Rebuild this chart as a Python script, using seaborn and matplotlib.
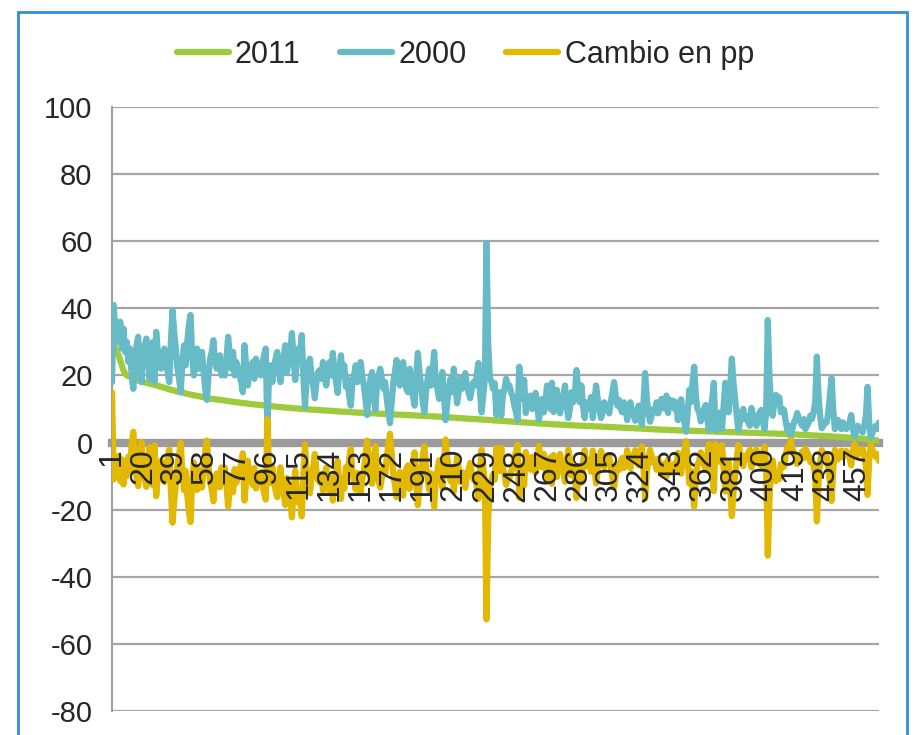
import numpy as np
import pandas as pd
import matplotlib
matplotlib.use('Agg')
import matplotlib.pyplot as plt
from matplotlib.patches import Rectangle
import seaborn as sns

# values (one per ranked unit)
v2011 = [
    33, 30, 28, 27, 26, 24.5, 23, 21.5, 20.5, 20,
    19.8, 19.6, 19.4, 19.2, 19.0, 18.6, 18.5, 18.3, 18.2, 18.1,
    18.0, 17.8, 17.7, 17.6, 17.4, 17.3, 17.2, 17.0, 16.9, 16.8,
    16.6, 16.5, 16.3, 16.2, 16.0, 15.9, 15.7, 15.6, 15.5, 15.3,
    15.2, 15.1, 15.0, 14.9, 14.8, 14.6, 14.5, 14.4, 14.3, 14.2,
    14.1, 14.0, 13.9, 13.8, 13.7, 13.6, 13.5, 13.4, 13.3, 13.2,
    13.1, 13.0, 13.0, 12.9, 12.8, 12.8, 12.7, 12.6, 12.6, 12.5,
    12.4, 12.4, 12.3, 12.2, 12.2, 12.1, 12.0, 12.0, 11.9, 11.8,
    11.8, 11.7, 11.7, 11.6, 11.5, 11.5, 11.4, 11.4, 11.3, 11.3,
    11.2, 11.2, 11.1, 11.1, 11.0, 11.0, 10.9, 10.9, 10.8, 10.8,
    10.7, 10.7, 10.6, 10.6, 10.5, 10.5, 10.4, 10.4, 10.4, 10.3,
    10.3, 10.2, 10.2, 10.2, 10.1, 10.1, 10.0, 10.0, 10.0, 9.9,
    9.9, 9.9, 9.8, 9.8, 9.8, 9.7, 9.7, 9.7, 9.6, 9.6,
    9.6, 9.5, 9.5, 9.5, 9.4, 9.4, 9.4, 9.3, 9.3, 9.3,
    9.2, 9.2, 9.2, 9.2, 9.1, 9.1, 9.1, 9.0, 9.0, 9.0,
    8.9, 8.9, 8.9, 8.9, 8.8, 8.8, 8.8, 8.8, 8.7, 8.7,
    8.7, 8.7, 8.6, 8.6, 8.6, 8.6, 8.5, 8.5, 8.5, 8.5,
    8.4, 8.4, 8.4, 8.4, 8.3, 8.3, 8.3, 8.3, 8.2, 8.2,
    8.2, 8.2, 8.2, 8.1, 8.1, 8.1, 8.1, 8.0, 8.0, 8.0,
    8.0, 7.9, 7.9, 7.9, 7.9, 7.8, 7.8, 7.8, 7.8, 7.7,
    7.7, 7.7, 7.6, 7.6, 7.6, 7.5, 7.5, 7.5, 7.4, 7.4,
    7.4, 7.3, 7.3, 7.3, 7.2, 7.2, 7.2, 7.1, 7.1, 7.1,
    7.0, 7.0, 7.0, 7.0, 6.9, 6.9, 6.9, 6.8, 6.8, 6.8,
    6.7, 6.7, 6.7, 6.6, 6.6, 6.6, 6.5, 6.5, 6.5, 6.4,
    6.4, 6.4, 6.3, 6.3, 6.3, 6.2, 6.2, 6.2, 6.1, 6.1,
    6.1, 6.0, 6.0, 6.0, 5.9, 5.9, 5.9, 5.8, 5.8, 5.8,
    5.7, 5.7, 5.7, 5.6, 5.6, 5.6, 5.6, 5.5, 5.5, 5.5,
    5.4, 5.4, 5.4, 5.4, 5.3, 5.3, 5.3, 5.3, 5.2, 5.2,
    5.2, 5.2, 5.1, 5.1, 5.1, 5.1, 5.0, 5.0, 5.0, 5.0,
    4.9, 4.9, 4.9, 4.9, 4.9, 4.8, 4.8, 4.8, 4.8, 4.8,
    4.7, 4.7, 4.7, 4.7, 4.6, 4.6, 4.6, 4.6, 4.5, 4.5,
    4.5, 4.5, 4.4, 4.4, 4.4, 4.4, 4.3, 4.3, 4.3, 4.3,
    4.2, 4.2, 4.2, 4.2, 4.1, 4.1, 4.1, 4.1, 4.0, 4.0,
    4.0, 4.0, 3.9, 3.9, 3.9, 3.9, 3.8, 3.8, 3.8, 3.8,
    3.8, 3.7, 3.7, 3.7, 3.7, 3.7, 3.6, 3.6, 3.6, 3.6,
    3.6, 3.6, 3.5, 3.5, 3.5, 3.5, 3.5, 3.5, 3.4, 3.4,
    3.4, 3.4, 3.4, 3.4, 3.3, 3.3, 3.3, 3.3, 3.3, 3.3,
    3.2, 3.2, 3.2, 3.2, 3.2, 3.2, 3.1, 3.1, 3.1, 3.1,
    3.1, 3.1, 3.0, 3.0, 3.0, 3.0, 3.0, 3.0, 3.0, 2.9,
    2.9, 2.9, 2.9, 2.9, 2.9, 2.9, 2.8, 2.8, 2.8, 2.8,
    2.8, 2.8, 2.7, 2.7, 2.7, 2.7, 2.7, 2.6, 2.6, 2.6,
    2.6, 2.6, 2.5, 2.5, 2.5, 2.5, 2.4, 2.4, 2.4, 2.4,
    2.3, 2.3, 2.3, 2.3, 2.2, 2.2, 2.2, 2.2, 2.1, 2.1,
    2.1, 2.1, 2.0, 2.0, 2.0, 2.0, 1.9, 1.9, 1.9, 1.9,
    1.8, 1.8, 1.8, 1.7, 1.7, 1.7, 1.6, 1.6, 1.6, 1.5,
    1.5, 1.5, 1.4, 1.4, 1.3, 1.3, 1.3, 1.2, 1.2, 1.1,
    1.1, 1.0, 1.0, 0.9, 0.9, 0.8, 0.8, 0.7, 0.6, 0.5,
]

v2000 = [
    18, 41, 33, 36, 30, 36, 28, 34, 27, 30,
    24, 28, 20, 16, 24, 29, 31.5, 22, 18, 26,
    29, 31, 25, 19, 27, 30, 18, 33, 27, 25,
    22, 26, 28, 24, 21, 18, 30, 39.5, 33, 28,
    22, 19, 15, 24, 29, 23, 30, 35, 38, 26,
    20, 24, 28, 22, 25, 27, 21, 16, 12.7, 20,
    25, 27, 30.5, 24, 22, 23, 26, 20, 24, 20,
    25, 31.5, 26, 22, 27, 20, 24, 22, 20, 18,
    15, 29, 23, 17, 22, 20, 24, 19, 25, 21,
    23, 20, 24, 26, 28, 4, 20, 23, 18, 22,
    25, 27, 22, 18, 24, 26, 29, 21, 25, 27,
    32.6, 25, 18.6, 24, 28, 26, 32, 20, 10.6, 19,
    23, 25, 20, 17, 13.2, 18, 21, 21.6, 19, 24,
    20, 17, 22, 24, 20, 26.7, 21, 18, 14.8, 22,
    26, 20, 23, 16.6, 19, 14, 11, 18, 20, 23,
    18, 21, 24, 20, 17, 13, 8.2, 15, 19, 21,
    14, 9.7, 17, 20, 22, 19, 16, 18, 13, 9,
    5.8, 12, 18, 21, 24.6, 19, 17, 20, 24, 19,
    16, 15, 22, 18, 14, 11, 20, 26.7, 21, 17,
    12, 9, 15, 19, 22, 17, 21, 27, 18, 16,
    13, 17, 21, 14, 6.7, 12, 16, 19, 15, 22,
    17, 11.7, 15, 19, 16, 18, 20.7, 17, 15, 13.2,
    16, 18, 17, 20, 23.7, 15, 9, 14, 19, 59.5,
    30, 19.6, 18, 16, 17.7, 8.2, 12, 15, 8, 14,
    16, 19, 17, 17, 15, 13.7, 11, 9, 6.7, 22.6,
    16, 13, 18.7, 8.8, 12, 11, 14, 10, 12, 14.8,
    11, 6.7, 10, 13, 9, 12, 17, 12, 10, 17.8,
    9.1, 13, 15.7, 11, 8.7, 12, 14, 17, 11, 7.3,
    10, 15, 12, 14, 21.6, 16, 12, 17, 11, 7.3,
    12, 10, 11, 13.6, 7.3, 12, 17, 13, 10, 7.3,
    9, 12, 10, 11, 8.7, 12, 15, 18, 14, 11,
    12.7, 10, 9, 12, 11, 6.7, 10, 12, 9, 8,
    6.5, 9, 11, 8, 5.3, 12, 20.7, 13, 9, 6.2,
    8, 10, 9, 12, 8.7, 11, 13, 12, 10, 14,
    8.8, 12.7, 11, 12.5, 10, 12, 6.7, 11, 12.9, 8,
    6, 3.2, 9, 15.7, 12, 18, 22.6, 14, 10, 9,
    6.3, 8, 10, 11.2, 7, 3.7, 9, 13, 17.8, 3.7,
    7, 7.3, 9, 4, 11, 17.8, 12, 9, 16, 25,
    18, 13, 8, 3.7, 6, 9, 10, 7, 8, 6,
    5, 10.3, 8, 7, 5, 7, 9, 9.7, 6, 4,
    9, 36.5, 20, 10, 8, 12, 14.2, 12, 13.5, 9,
    10, 9.7, 6, 3.7, 5, 1.7, 4, 6, 7, 8.8,
    7, 6, 5, 7, 4, 5, 6, 8, 7, 9,
    12, 25.6, 14, 8, 4.3, 5, 6, 6, 9, 14,
    19.2, 10, 4, 5, 6.7, 5, 4, 6, 5, 4,
    5, 6, 8.2, 4, 1.8, 3, 5, 4, 4, 3,
    5, 8, 16.6, 6, 1.5, 3, 4, 5, 4, 6,
]

series_names = ['2011', '2000', 'Cambio en pp']
colors = ['#9DCB3C', '#66BBC6', '#E3B800']
y_ticks = [-80, -60, -40, -20, 0, 20, 40, 60, 80, 100]

n = min(len(v2011), len(v2000))
idx = np.arange(1, n + 1)
a2011 = np.array(v2011[:n], dtype=float)
a2000 = np.array(v2000[:n], dtype=float)
# change in percentage points = 2011 minus 2000
cambio = np.round(a2011 - a2000, 1)

df = pd.DataFrame({
    'idx': np.tile(idx, 3),
    'valor': np.concatenate([a2011, a2000, cambio]),
    'serie': np.repeat(series_names, n),
})

sns.set_style('white')
plt.rcParams['font.family'] = ['Liberation Sans', 'DejaVu Sans']
plt.rcParams['axes.unicode_minus'] = False

fig = plt.figure(figsize=(9.16, 7.35), dpi=100)
ax = fig.add_axes([0.1223, 0.0327, 0.8373, 0.8217])

sns.lineplot(data=df, x='idx', y='valor', hue='serie', hue_order=series_names,
             palette=colors, linewidth=4.5, estimator=None, ax=ax, zorder=3)

ax.set_xlim(1, n)
ax.set_ylim(-80, 100)
ax.set_yticks(y_ticks)
ax.set_xticks(idx[::19])
ax.set_xticklabels([str(i) for i in idx[::19]])
ax.set_xlabel('')
ax.set_ylabel('')

ax.yaxis.grid(True, color='#A6A6A6', linewidth=1.6)
ax.set_axisbelow(True)
# category labels sit on top of the lines, as in the original
ax.xaxis.set_zorder(4)

for s in ['top', 'right']:
    ax.spines[s].set_visible(False)
ax.spines['left'].set_color('#A0A0A0')
ax.spines['left'].set_linewidth(1.5)
ax.spines['bottom'].set_position(('data', 0))
ax.spines['bottom'].set_color('#9B9B9B')
ax.spines['bottom'].set_linewidth(6)
ax.spines['bottom'].set_zorder(2.5)

ax.tick_params(axis='x', length=0, pad=4, labelsize=23, labelrotation=90)
ax.tick_params(axis='y', length=4, width=1.5, color='#A0A0A0', pad=10, labelsize=21)

handles, labels = ax.get_legend_handles_labels()
ax.legend(handles, labels, loc='center', bbox_to_anchor=(0.508, 0.925),
          bbox_transform=fig.transFigure, ncol=3, frameon=False, fontsize=22,
          handlelength=1.7, handletextpad=0.2, columnspacing=1.3)

# blue frame around the chart
fig.add_artist(Rectangle((0.02, -0.1), 0.97, 1.083, transform=fig.transFigure,
                         fill=False, edgecolor='#2F8FD8', linewidth=2))

fig.savefig('out.png', dpi=100)
